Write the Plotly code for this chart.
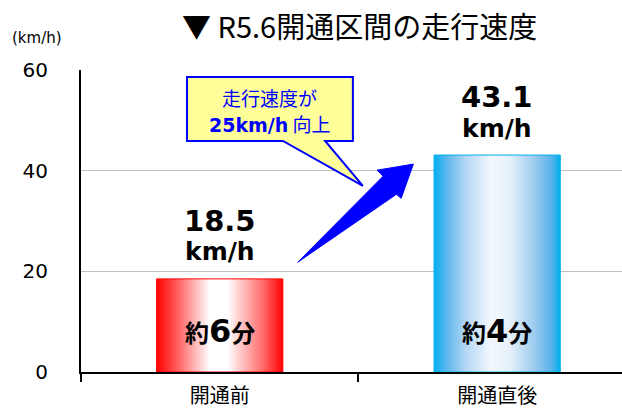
import plotly.graph_objects as go

# --- data -------------------------------------------------------------
categories = ["開通前", "開通直後"]
speeds = [18.5, 43.1]            # average travel speed, km/h
travel_minutes = [6, 4]          # approximate travel time, minutes
y_ticks = [0, 20, 40, 60]
speed_gain = 25                  # km/h improvement shown in the callout

# --- styling ----------------------------------------------------------
bar_width = 0.455
bar_gradients = [
    [[0.0, "#FF0000"], [0.15, "#FF5555"], [0.42, "#FFFFFF"],
     [0.56, "#FFFFFF"], [0.85, "#FF6666"], [1.0, "#FF0000"]],
    [[0.0, "#00B0F0"], [0.1, "#5DB6EC"], [0.25, "#B2D6F3"],
     [0.45, "#F3F8FD"], [0.6, "#E6F1FB"], [0.8, "#9CCAEE"],
     [0.93, "#5AB2EA"], [1.0, "#00B0F0"]],
]
bar_edges = ["#FF0000", "#00B0F0"]
CJK = "Noto Sans CJK JP"
LATIN = "DejaVu Sans, Noto Sans CJK JP"

fig = go.Figure()

# gradient-filled bars
for i, (v, cs, ec) in enumerate(zip(speeds, bar_gradients, bar_edges)):
    x0, x1 = i - bar_width / 2, i + bar_width / 2
    fig.add_trace(go.Scatter(
        x=[x0, x0, x1, x1, x0], y=[0, v, v, 0, 0],
        mode="lines", fill="toself",
        fillgradient=dict(type="horizontal", colorscale=cs),
        line=dict(color=ec, width=1),
        hoverinfo="skip", showlegend=False,
    ))

annotations = []
for i, (v, m) in enumerate(zip(speeds, travel_minutes)):
    annotations.append(dict(
        x=i, y=v, xref="x", yref="y", yshift=58, yanchor="middle",
        text=f"<b>{v}</b>", showarrow=False,
        font=dict(family=LATIN, size=29, color="black"),
    ))
    annotations.append(dict(
        x=i, y=v, xref="x", yref="y", yshift=27, yanchor="middle",
        text="<b>km/h</b>", showarrow=False,
        font=dict(family=LATIN, size=25, color="black"),
    ))
    annotations.append(dict(
        x=i, y=0, xref="x", yref="y", yshift=41, yanchor="middle",
        text=(f"<b>約<span style='font-size:32px;font-family:DejaVu Sans'>{m}</span>分</b>"),
        showarrow=False,
        font=dict(family=CJK, size=24, color="black"),
    ))

# callout text
annotations.append(dict(
    x=0.18, y=54.6, xref="x", yref="y", yanchor="middle",
    text="走行速度が", showarrow=False,
    font=dict(family=CJK, size=19, color="#0000FF"),
))
annotations.append(dict(
    x=0.18, y=49.3, xref="x", yref="y", yanchor="middle",
    text=(f"<b><span style='font-family:DejaVu Sans'>{speed_gain}km/h</span></b> 向上"),
    showarrow=False,
    font=dict(family=CJK, size=19, color="#0000FF"),
))

# title and unit
annotations.append(dict(
    x=0.515, y=1.15, xref="paper", yref="paper", yanchor="middle",
    text="▼ R5.6開通区間の走行速度", showarrow=False,
    font=dict(family=CJK, size=29, color="black"),
))
annotations.append(dict(
    x=-0.131, y=1.106, xref="paper", yref="paper",
    xanchor="left", yanchor="middle",
    text="(km/h)", showarrow=False,
    font=dict(family="DejaVu Sans", size=15, color="black"),
))

# speech-bubble callout with tail pointing at the arrow
bx0, bx1, by0, by1 = -0.118, 0.48, 45.9, 58.6
tail_l, tail_r, tip_x, tip_y = 0.228, 0.38, 0.516, 37.0
callout_path = (f"M {bx0},{by1} L {bx1},{by1} L {bx1},{by0} L {tail_r},{by0} "
                f"L {tip_x},{tip_y} L {tail_l},{by0} L {bx0},{by0} Z")

# tapered arrow between the bars
arrow_pts = [(0.281, 21.8), (0.589, 38.9), (0.567, 40.1), (0.698, 41.3),
             (0.654, 34.5), (0.637, 35.3)]
arrow_path = "M " + " L ".join(f"{x},{y}" for x, y in arrow_pts) + " Z"

shapes = [
    dict(type="path", path=callout_path, xref="x", yref="y",
         fillcolor="#FFFF99", line=dict(color="#0000FF", width=2), layer="above"),
    dict(type="path", path=arrow_path, xref="x", yref="y",
         fillcolor="#0000FF", line=dict(color="#0000FF", width=1), layer="above"),
]

fig.update_layout(
    width=622, height=411,
    margin=dict(l=81, r=0, t=70, b=39),
    paper_bgcolor="white", plot_bgcolor="white",
    showlegend=False,
    annotations=annotations, shapes=shapes,
    xaxis=dict(
        range=[-0.5, 1.45], tickvals=[0, 1], ticktext=categories,
        showgrid=False, zeroline=False, automargin=False,
        showline=True, linecolor="black", linewidth=2,
        ticks="", ticklabelstandoff=5,
        minor=dict(tick0=-0.5, dtick=1, ticks="outside", ticklen=8,
                   tickwidth=1.5, tickcolor="black", showgrid=False),
        tickfont=dict(family=CJK, size=20, color="black"),
        fixedrange=True,
    ),
    yaxis=dict(
        range=[0, 60], tickvals=y_ticks,
        showgrid=True, gridcolor="#C0C0C0", gridwidth=1,
        zeroline=False, showline=True, linecolor="black", linewidth=2,
        ticks="", ticklabelstandoff=27, automargin=False,
        tickfont=dict(family=LATIN, size=20, color="black"),
        fixedrange=True,
    ),
)

fig.write_html("out.html")
